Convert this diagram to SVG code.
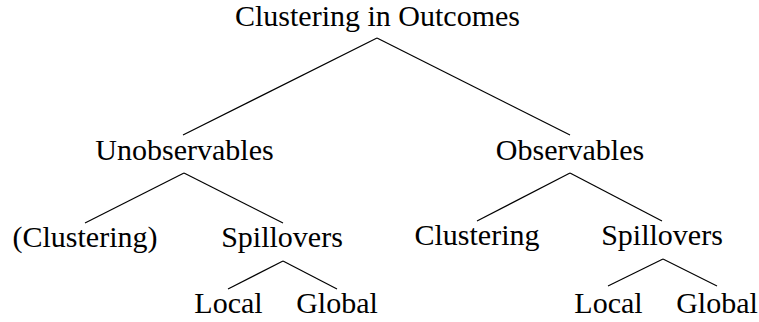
<svg xmlns="http://www.w3.org/2000/svg" width="759" height="322" viewBox="0 0 759 322">
<rect width="759" height="322" fill="#fff"/>
<g id="connectors" stroke="#000" stroke-width="1.2">
<line x1="377" y1="38" x2="183" y2="135"/>
<line x1="377" y1="38" x2="570" y2="135"/>
<line x1="184" y1="173" x2="85" y2="223"/>
<line x1="184" y1="173" x2="283" y2="223"/>
<line x1="570" y1="173" x2="477" y2="221"/>
<line x1="570" y1="173" x2="662" y2="221"/>
<line x1="283" y1="261" x2="228" y2="289"/>
<line x1="283" y1="261" x2="337" y2="289"/>
<line x1="663" y1="259" x2="608" y2="286"/>
<line x1="663" y1="259" x2="717" y2="286"/>
</g>
<g font-family="'Liberation Serif', 'Times New Roman', Tinos, serif" font-size="30" fill="#000" text-anchor="middle">
<g id="root"><text x="377.5" y="26">Clustering in Outcomes</text></g>
<g id="unobservables"><text x="184.5" y="160">Unobservables</text></g>
<g id="observables"><text x="570" y="160">Observables</text></g>
<g id="clustering-unobs"><text x="85" y="247">(Clustering)</text></g>
<g id="spillovers-unobs"><text x="282" y="247">Spillovers</text></g>
<g id="clustering-obs"><text x="477" y="245">Clustering</text></g>
<g id="spillovers-obs"><text x="662" y="245">Spillovers</text></g>
<g id="local-unobs"><text x="228.5" y="313">Local</text></g>
<g id="global-unobs"><text x="337" y="313">Global</text></g>
<g id="local-obs"><text x="608.5" y="313">Local</text></g>
<g id="global-obs"><text x="717" y="313">Global</text></g>
</g>
</svg>
